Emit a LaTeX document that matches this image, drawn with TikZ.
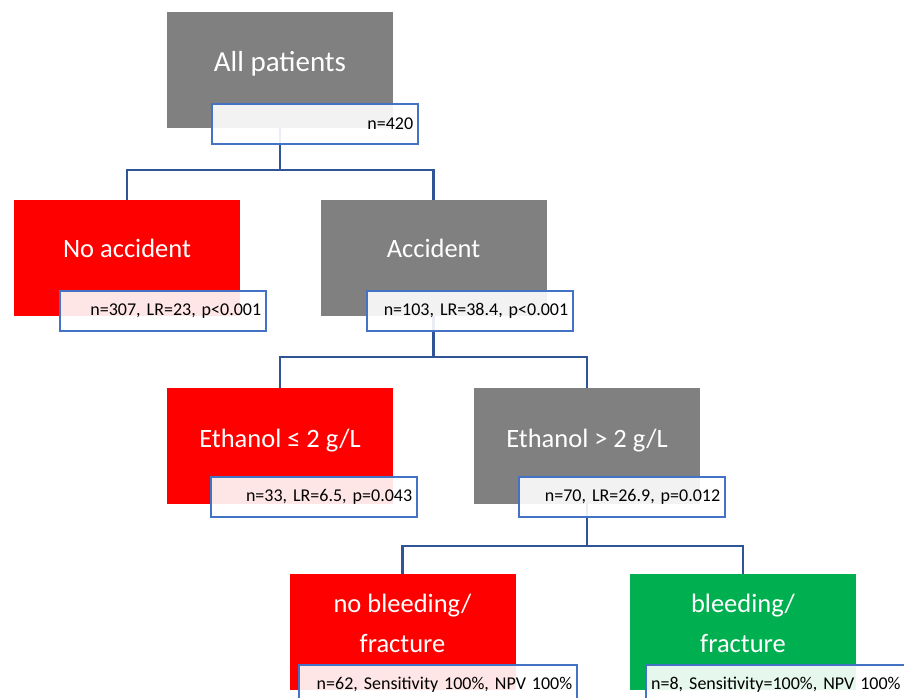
\documentclass[tikz,border=0pt]{standalone}
\usepackage{fontspec}
\setmainfont{Carlito}
\definecolor{boxgray}{HTML}{808080}
\definecolor{boxred}{HTML}{FF0000}
\definecolor{boxgreen}{HTML}{00B050}
\definecolor{lblblue}{HTML}{4472C4}
\definecolor{conblue}{HTML}{2F5597}
\begin{document}
\begin{tikzpicture}[x=1pt,y=-1pt,
  mainbox/.style={rectangle, minimum width=226pt, minimum height=116pt, inner sep=0pt},
  lbl/.style={rectangle, draw=lblblue, line width=2.4pt, fill=white, fill opacity=0.9, text opacity=1,
    anchor=north west, minimum height=40pt, inner xsep=5pt, inner ysep=0pt, align=right,
    font=\fontsize{18}{20}\selectfont},
  big/.style={text=white, font=\fontsize{26.5}{40}\selectfont, anchor=base},
  con/.style={draw=conblue, line width=2.4pt}]
\useasboundingbox (0,0) rectangle (904,698);
\clip (0,0) rectangle (904,698);
% main boxes
\node[mainbox, fill=boxgray]  (ap) at (280,70) {};
\node[mainbox, fill=boxred]   (na) at (127,258) {};
\node[mainbox, fill=boxgray]  (ac) at (433.5,258) {};
\node[mainbox, fill=boxred]   (el) at (280,446) {};
\node[mainbox, fill=boxgray]  (eg) at (587,446) {};
\node[mainbox, fill=boxred]   (nb) at (402.5,632) {};
\node[mainbox, fill=boxgreen] (bl) at (743,632) {};
% connectors
\draw[con] (ap.south) -- ([yshift=-42pt]ap.south) -| (na.north);
\draw[con] ([yshift=-42pt]ap.south) -| (ac.north);
\draw[con] (ac.south) -- ([yshift=-41pt]ac.south) -| (el.north);
\draw[con] ([yshift=-41pt]ac.south) -| (eg.north);
\draw[con] (eg.south) -- ([yshift=-42pt]eg.south) -| (nb.north);
\draw[con] ([yshift=-42pt]eg.south) -| (bl.north);
% titles
\node[big, font=\fontsize{29}{40}\selectfont] (apt) at (280,72) {All patients};
\node[big] (nat) at (127,257) {No accident};
\node[big] (act) at (433.5,257) {Accident};
\node[big] (elt) at (280,447) {Ethanol ≤ 2 g/L};
\node[big] (egt) at (587,447) {Ethanol > 2 g/L};
\node[big] (nbt1) at (402.5,612) {no bleeding/};
\node[big] (nbt2) at (402.5,652) {fracture};
\node[big] (blt1) at (743,612) {bleeding/};
\node[big] (blt2) at (743,652) {fracture};
% labels
\node[lbl, text width=196pt] (apl) at (211,103) {n=420};
\node[lbl, text width=196pt] (nal) at (59,290) {n=307, LR=23, p<0.001};
\node[lbl, text width=196pt] (acl) at (366,290) {n=103, LR=38.4, p<0.001};
\node[lbl, text width=196pt] (ell) at (210,476) {n=33, LR=6.5, p=0.043};
\node[lbl, text width=196pt] (egl) at (518,476) {n=70, LR=26.9, p=0.012};
\node[lbl, text width=268pt] (nbl) at (298,664) {n=62, Sensitivity 100\%, NPV 100\%};
\node[lbl, text width=268pt, align=left] (bll) at (645,664) {n=8, Sensitivity=100\%, NPV 100\%};
\end{tikzpicture}
\end{document}
